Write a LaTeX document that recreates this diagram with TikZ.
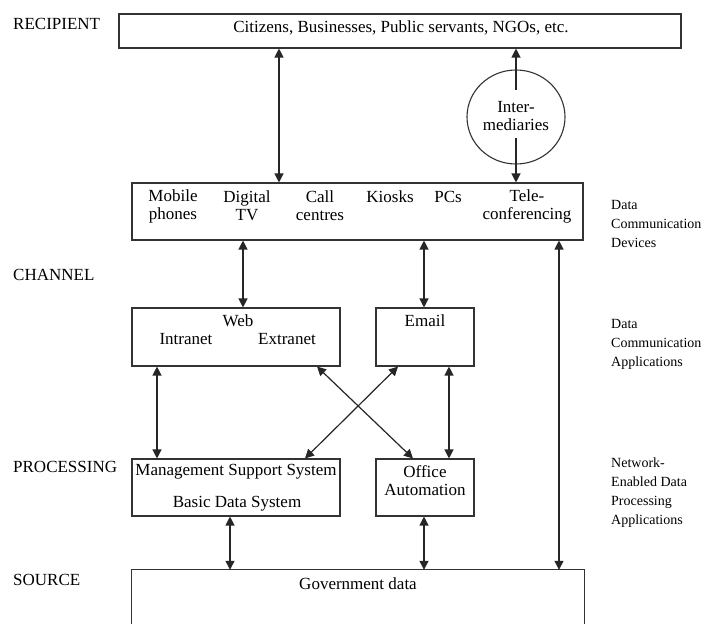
\documentclass[tikz,border=0pt]{standalone}
\usepackage{fontspec}
\setmainfont{Liberation Serif}
\usetikzlibrary{arrows.meta,shapes.geometric,calc}
\begin{document}
\begin{tikzpicture}[x=1pt,y=-1pt,
  box/.style={draw=black!80,line width=1.1pt,rectangle,inner sep=0pt},
  txt/.style={inner sep=0pt,font=\fontsize{17}{18}\selectfont,align=center},
  side/.style={inner sep=0pt,font=\fontsize{17}{18}\selectfont,anchor=base west},
  note/.style={inner sep=0pt,font=\fontsize{14}{19}\selectfont,align=left,anchor=west},
  biarrow/.style={draw=black!85,line width=1.2pt,{Triangle[length=9pt,width=9pt]}-{Triangle[length=9pt,width=9pt]}},
  onearrow/.style={draw=black!85,line width=1.2pt,-{Triangle[length=9pt,width=9pt]}}]
\useasboundingbox[fill=white] (0,0) rectangle (709,624);

% side labels
\node[side] (lrec) at (13,29) {RECIPIENT};
\node[side] (lchan) at (13,280) {CHANNEL};
\node[side] (lproc) at (13,472) {PROCESSING};
\node[side] (lsrc) at (13,585) {SOURCE};

\node[note] (ndev) at (611,224) {Data\\Communication\\Devices};
\node[note] (napp) at (611,344) {Data\\Communication\\Applications};
\node[note] (nproc) at (611,493) {Network-\\Enabled Data\\Processing\\Applications};

% boxes
\node[box,minimum width=562,minimum height=34] (rec) at (400,31) {};
\node[txt] (trec) at (401,28) {Citizens, Businesses, Public servants, NGOs, etc.};

\node[draw=black!80,line width=1.1pt,ellipse,minimum width=98,minimum height=94,inner sep=0pt] (int) at (516,117) {};
\node[txt] (tint) at (516,116) {Inter-\\mediaries};

\node[box,minimum width=451,minimum height=57] (dev) at (357.5,211.5) {};
\node[txt] (t1) at (173,206) {Mobile\\phones};
\node[txt] (t2) at (247,206) {Digital\\TV};
\node[txt] (t3) at (320,206) {Call\\centres};
\node[txt] (t4) at (390,197) {Kiosks};
\node[txt] (t5) at (448,197) {PCs};
\node[txt] (t6) at (527,206) {Tele-\\conferencing};

\node[box,minimum width=208,minimum height=58] (web) at (236,337) {};
\node[txt] (tweb) at (238,321) {Web};
\node[txt] (tintra) at (186,339) {Intranet};
\node[txt] (textra) at (287,339) {Extranet};

\node[box,minimum width=98,minimum height=58] (email) at (425,337) {};
\node[txt] (temail) at (425,321) {Email};

\node[box,minimum width=208,minimum height=57] (mss) at (236,487.5) {};
\node[txt] (tmss) at (236,472) {Management Support System};
\node[txt] (tbds) at (237,504) {Basic Data System};

\node[box,minimum width=98,minimum height=57] (oa) at (425,487.5) {};
\node[txt] (toa) at (425,481) {Office\\Automation};

\node[inner sep=0pt,minimum width=452,minimum height=54] (gov) at (358,597) {};
\draw[draw=black!80,line width=1.1pt] (gov.south west) -- (gov.north west) -- (gov.north east) -- (gov.south east);
\node[txt] (tgov) at (358,584) {Government data};

% connectors
\draw[biarrow] (rec.south -| 279,0) -- (dev.north -| 279,0);
\draw[onearrow] ($(int.center)+(0,-27)$) -- (rec.south -| int.center);
\draw[onearrow] ($(int.center)+(0,21)$) -- (dev.north -| int.center);

\draw[biarrow] (dev.south -| 243,0) -- (web.north -| 243,0);
\draw[biarrow] (dev.south -| 424,0) -- (email.north -| 424,0);
\draw[biarrow] (dev.south -| 559,0) -- (gov.north -| 559,0);

\draw[biarrow] (web.south -| 157,0) -- (mss.north -| 157,0);
\draw[biarrow] (email.south -| 449,0) -- (oa.north -| 449,0);
\draw[biarrow] (web.south -| 317,0) -- (oa.north -| 413,0);
\draw[biarrow] (email.south -| 398,0) -- (mss.north -| 305,0);

\draw[biarrow] (mss.south -| 230,0) -- (gov.north -| 230,0);
\draw[biarrow] (oa.south -| 424,0) -- (gov.north -| 424,0);
\end{tikzpicture}
\end{document}
